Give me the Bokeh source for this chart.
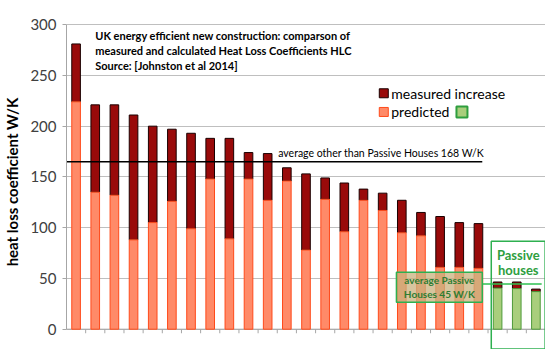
from bokeh.plotting import figure
from bokeh.embed import file_html
from bokeh.resources import INLINE
from bokeh.models import ColumnDataSource, FixedTicker, Range1d, Label

# ---- data ----
houses = [f"H{i}" for i in range(1, 23)] + ["PH1", "PH2", "PH3"]
predicted = [224, 135, 132, 88, 105, 126, 99, 148, 89, 148, 127,
             146, 78, 128, 96, 127, 117, 95, 92, 61, 61, 60,
             40.5, 40, 37]
measured = [281, 221, 221, 211, 200, 197, 193, 188, 188, 174, 173,
            159, 153, 149, 144, 138, 134, 127, 115, 111, 105, 104,
            46.5, 46.5, 39.5]
passive = [False] * 22 + [True] * 3
avg_other = 165
avg_passive = 44.5
y_ticks = [0, 50, 100, 150, 200, 250, 300]

n = len(houses)
xs = list(range(1, n + 1))
pred_fill = ["#A9CE7C" if p else "#FF8A68" for p in passive]
pred_line = ["#4E9A3A" if p else "#FF4A1A" for p in passive]

src = ColumnDataSource(dict(
    x=xs, house=houses, predicted=predicted, measured=measured,
    fill=pred_fill, line=pred_line))

FONT = "Lato"

p = figure(frame_width=479, frame_height=335, output_backend="svg", toolbar_location=None,
           x_range=Range1d(0.5, n + 0.5), y_range=Range1d(-20, 310),
           min_border_left=60, min_border_right=0, min_border_top=14,
           min_border_bottom=0)
p.outline_line_color = None
p.xaxis.visible = False
p.xgrid.visible = False

p.ygrid.ticker = FixedTicker(ticks=y_ticks)
p.ygrid.grid_line_color = "#BFBFBF"
p.ygrid.grid_line_width = 1

ya = p.yaxis[0]
ya.ticker = FixedTicker(ticks=y_ticks)
ya.bounds = (0, 300)
ya.axis_line_color = "#A6A6A6"
ya.major_tick_line_color = "#A6A6A6"
ya.major_tick_out = 4
ya.major_tick_in = 0
ya.minor_tick_line_color = None
ya.major_label_text_font = FONT
ya.major_label_text_font_size = "15px"
ya.major_label_text_color = "#404040"
ya.major_label_standoff = 6
ya.axis_label = "heat loss coefficient W/K"
ya.axis_label_text_font = FONT
ya.axis_label_text_font_size = "15px"
ya.axis_label_text_font_style = "bold"
ya.axis_label_text_color = "#000000"
ya.axis_label_standoff = 6

# x axis line at zero with boundary tick marks
p.segment(x0=[0.5], y0=[0], x1=[n + 0.5], y1=[0], line_color="#A6A6A6", line_width=1)
bx = [i + 0.5 for i in range(1, n + 1)]
p.segment(x0=bx, y0=[0] * n, x1=bx, y1=[-4] * n, line_color="#A6A6A6", line_width=1)

# bars
W = 0.45
p.vbar(x="x", bottom="predicted", top="measured", width=W, source=src,
       fill_color="#990A0A", line_color="#1A0000", line_width=1)
p.vbar(x="x", bottom=0, top="predicted", width=W, source=src,
       fill_color="fill", line_color="line", line_width=1)

# average line (others)
p.segment(x0=[0.5], y0=[avg_other], x1=[22.2], y1=[avg_other],
          line_color="#000000", line_width=1.5)
p.add_layout(Label(x=11.55, y=avg_other + 3, text="average other than Passive Houses 168 W/K",
                   text_font=FONT, text_font_size="10.5px", text_color="#000000"))

# title block
for i, t in enumerate(["UK energy efficient new construction: comparson of",
                       "measured and calculated Heat Loss Coefficients HLC",
                       "Source: [Johnston et al 2014]"]):
    p.add_layout(Label(x=2.0, y=289 - i * 14.8, text=t, text_font=FONT,
                       text_font_size="11px", text_font_style="bold",
                       text_color="#000000", text_baseline="middle"))

# legend
p.scatter(x=[17.06], y=[232.4], marker="square", size=9,
          fill_color="#990A0A", line_color="#1A0000", line_width=1)
p.add_layout(Label(x=17.45, y=232.4, text="measured increase", text_font=FONT,
                   text_font_size="14px", text_color="#000000", text_baseline="middle"))
p.scatter(x=[17.06], y=[214], marker="square", size=9,
          fill_color="#FF8A68", line_color="#FF4A1A", line_width=1)
p.add_layout(Label(x=17.45, y=214, text="predicted", text_font=FONT,
                   text_font_size="14px", text_color="#000000", text_baseline="middle"))
p.scatter(x=[21.14], y=[214], marker="square", size=11,
          fill_color="#A9CE7C", line_color="#2E9E3E", line_width=2)

# passive houses box
p.quad(left=[22.67], right=[25.48], bottom=[-19.5], top=[86.7],
       fill_color=None, line_color="#2EB050", line_width=1.5)
p.add_layout(Label(x=24.08, y=73, text="Passive", text_font=FONT, text_font_size="13px",
                   text_font_style="bold", text_color="#2E9E3E", text_align="center",
                   text_baseline="middle"))
p.add_layout(Label(x=24.08, y=58.5, text="houses", text_font=FONT, text_font_size="13px",
                   text_font_style="bold", text_color="#2E9E3E", text_align="center",
                   text_baseline="middle"))

# passive average line and text box
p.segment(x0=[22.2], y0=[avg_passive], x1=[25.3], y1=[avg_passive],
          line_color="#2EC050", line_width=1.5)
p.quad(left=[17.72], right=[22.2], bottom=[26.5], top=[56.2],
       fill_color="#C9B27E", fill_alpha=0.75, line_color="#2EB050", line_width=1.5)
p.add_layout(Label(x=19.96, y=48.5, text="average Passive", text_font=FONT,
                   text_font_size="10px", text_font_style="bold", text_color="#2E7D32",
                   text_align="center", text_baseline="middle"))
p.add_layout(Label(x=19.96, y=35, text="Houses 45 W/K", text_font=FONT,
                   text_font_size="10px", text_font_style="bold", text_color="#2E7D32",
                   text_align="center", text_baseline="middle"))

open("out.html", "w").write(file_html(p, INLINE))
